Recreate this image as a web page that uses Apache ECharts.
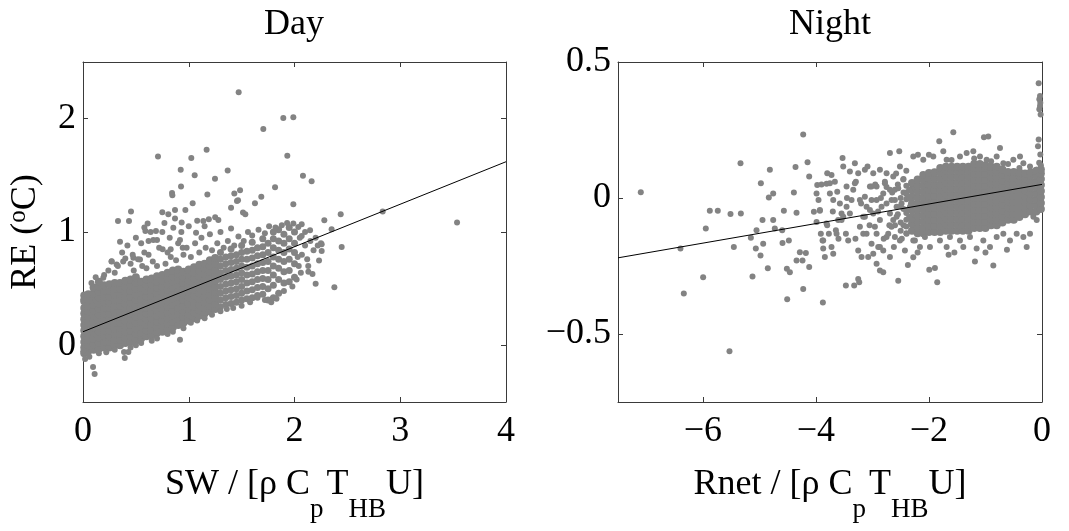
<!DOCTYPE html>
<html><head><meta charset="utf-8">
<script src="https://cdn.jsdelivr.net/npm/echarts@6/dist/echarts.min.js"></script>
<style>html,body{margin:0;padding:0;background:#fff}#c{width:1069px;height:531px}</style>
</head><body><div id="c"></div>
<script>
const FONT = 'Liberation Serif';
const dayXTicks = [0, 1, 2, 3, 4];
const dayYTicks = [0, 1, 2];
const nightXTicks = [-6, -4, -2, 0];
const nightYTicks = [-0.5, 0, 0.5];
const dayFit = [[0, 0.12], [4, 1.62]];
const nightFit = [[-7.5, -0.22], [0, 0.05]];

// Day: dense cloud, column by column (x, then y values seen in that column)
const dayCoreX = [0.012,0.05,0.1,0.15,0.2,0.25,0.3,0.35,0.4,0.45,0.5,0.55,0.6,0.65,0.7,0.75,0.8,0.85,0.9,0.95,1.0,1.05,1.1,1.15,1.2,1.25];
const dayCoreY = [
 [-0.07,-0.02,0.03,0.08,0.13,0.18,0.23,0.28,0.33,0.39,0.44],
 [-0.05,0.0,0.05,0.10,0.15,0.20,0.25,0.30,0.35,0.40,0.45],
 [-0.04,0.01,0.06,0.11,0.16,0.21,0.26,0.31,0.36,0.41,0.46,0.51],
 [-0.03,0.02,0.07,0.12,0.17,0.22,0.27,0.32,0.37,0.42,0.47,0.52,0.56],
 [-0.02,0.03,0.08,0.13,0.18,0.23,0.28,0.33,0.38,0.43,0.48,0.53],
 [-0.02,0.03,0.08,0.13,0.18,0.23,0.28,0.33,0.38,0.43,0.48,0.54],
 [0.0,0.05,0.10,0.15,0.20,0.25,0.30,0.35,0.40,0.45,0.50,0.55],
 [0.0,0.05,0.10,0.15,0.20,0.25,0.30,0.35,0.40,0.45,0.50,0.55],
 [0.02,0.07,0.12,0.17,0.22,0.27,0.32,0.37,0.42,0.47,0.52,0.57],
 [0.03,0.08,0.13,0.18,0.23,0.28,0.33,0.38,0.43,0.48,0.53,0.58],
 [0.05,0.10,0.15,0.20,0.25,0.30,0.35,0.40,0.45,0.50,0.55,0.60],
 [0.06,0.11,0.16,0.21,0.26,0.31,0.36,0.41,0.46,0.51,0.56],
 [0.08,0.13,0.18,0.23,0.28,0.33,0.38,0.43,0.48,0.53,0.58],
 [0.09,0.14,0.19,0.24,0.29,0.34,0.39,0.44,0.49,0.54,0.59],
 [0.11,0.16,0.21,0.26,0.31,0.36,0.41,0.46,0.51,0.56,0.61],
 [0.12,0.17,0.22,0.27,0.32,0.37,0.42,0.47,0.52,0.57,0.62],
 [0.14,0.19,0.24,0.29,0.34,0.39,0.44,0.49,0.54,0.59,0.64],
 [0.16,0.21,0.26,0.31,0.36,0.41,0.46,0.51,0.56,0.61,0.66],
 [0.18,0.23,0.28,0.33,0.38,0.43,0.48,0.53,0.58,0.63,0.67],
 [0.20,0.25,0.30,0.35,0.40,0.45,0.50,0.55,0.60,0.65],
 [0.22,0.27,0.32,0.37,0.42,0.47,0.52,0.57,0.62,0.67],
 [0.24,0.29,0.34,0.39,0.44,0.49,0.54,0.59,0.64,0.69],
 [0.26,0.31,0.36,0.41,0.46,0.51,0.56,0.61,0.66,0.71],
 [0.28,0.33,0.38,0.43,0.48,0.53,0.58,0.63,0.68,0.72],
 [0.30,0.35,0.40,0.45,0.50,0.55,0.60,0.65,0.70,0.75],
 [0.32,0.37,0.42,0.47,0.52,0.57,0.62,0.67,0.72,0.77]
];
// Day: looser band further right, column by column
const dayBandX = [1.3,1.35,1.4,1.45,1.5,1.55,1.6,1.65,1.7,1.75,1.8,1.85,1.9,1.95,2.0];
const dayBandY = [
 [0.34,0.40,0.46,0.52,0.58,0.64,0.70,0.76,0.82],
 [0.36,0.42,0.48,0.54,0.60,0.66,0.72,0.78],
 [0.37,0.43,0.49,0.55,0.61,0.67,0.73,0.79,0.85],
 [0.38,0.44,0.50,0.56,0.62,0.68,0.74,0.80],
 [0.40,0.46,0.52,0.58,0.64,0.70,0.76,0.82,0.88],
 [0.41,0.48,0.55,0.62,0.69,0.76,0.83],
 [0.42,0.49,0.56,0.63,0.70,0.77,0.84,0.91],
 [0.44,0.51,0.58,0.65,0.72,0.79,0.86],
 [0.45,0.52,0.59,0.66,0.73,0.80,0.87,0.94],
 [0.40,0.50,0.58,0.66,0.74,0.82,0.90],
 [0.42,0.53,0.62,0.70,0.78,0.86,0.94,1.0],
 [0.46,0.58,0.68,0.76,0.84,0.92,1.02],
 [0.55,0.65,0.74,0.82,0.90,0.98],
 [0.56,0.66,0.76,0.85,0.94,1.04],
 [0.60,0.72,0.82,0.90,1.0]
];
// Day: scattered points outside the dense cloud
const dayScatter = [
 [1.472,2.233],[1.894,2.006],[1.989,2.012],[1.705,1.909],[1.932,1.673],[0.709,1.667],[1.024,1.652],[1.169,1.726],
 [0.924,1.549],[1.056,1.501],[1.248,1.469],[1.368,1.543],[2.080,1.496],[2.162,1.448],[0.927,1.401],[1.816,1.395],
 [0.842,1.345],[0.845,1.324],[1.431,1.339],[1.485,1.369],[1.176,1.330],[1.466,1.280],[1.456,1.274],[1.686,1.310],
 [1.037,1.254],[1.989,1.245],[1.626,1.254],[1.40,1.215],[1.513,1.171],[1.535,1.156],[0.750,1.174],[0.807,1.156],
 [0.870,1.195],[0.968,1.195],[0.454,1.180],[0.331,1.097],[0.435,1.097],[0.35,0.914],[2.437,1.156],[2.834,1.18],
 [3.537,1.083],[2.282,1.103],[2.351,1.024],[2.446,0.867],[2.377,0.513],[2.2,0.543],[2.131,0.649],[2.232,0.749],
 [2.257,0.832],[2.257,0.891],[1.989,1.074],[2.036,1.044],[2.068,1.068],[2.147,1.015],[2.068,0.965],[1.28,1.106],
 [1.19,1.112],[1.138,1.097],[1.069,0.994],[0.69,1.009],[0.59,1.009],[0.611,1.074],[0.854,1.038],[0.933,1.083],
 [0.917,0.929],[0.943,0.861],[0.829,0.847],[0.665,0.929],[0.753,0.847],[0.476,0.773],[0.4,0.767],[0.539,0.758],
 [0.271,0.743],[0.318,0.714],[0.192,0.596],[0.06,0.395],[0.003,0.404],[0.917,0.05],[0.539,0.035],[0.388,-0.059],
 [0.429,-0.059],[0.395,-0.112],[0.095,-0.192],[0.11,-0.254],[0.028,-0.068],[0.003,-0.053],
 [0.08,0.55],[0.12,0.6],[0.2,0.62],[0.24,0.66],[0.3,0.64],[0.33,0.7],[0.38,0.74],[0.27,0.74],[0.45,0.72],[0.48,0.66],
 [0.52,0.76],[0.56,0.7],[0.6,0.68],[0.62,0.8],[0.58,0.82],[0.66,0.74],[0.7,0.7],[0.72,0.86],[0.78,0.72],[0.8,0.82],
 [0.83,0.78],[0.88,0.75],[0.9,0.9],[0.95,0.8],[0.98,0.86],[1.02,0.78],[1.06,0.9],[1.1,0.82],[1.12,0.95],[1.16,0.86],
 [1.2,0.98],[1.22,0.84],[1.27,0.9],[1.3,1.0],[1.33,0.86],[1.37,0.92],[1.4,1.03],[1.43,0.88],[1.47,0.96],[1.52,0.92],
 [1.56,1.0],[1.6,0.97],[1.66,1.02],[1.72,0.99],[1.76,1.05],[1.82,1.04],[1.88,1.06],[1.93,1.08],[0.64,1.0],[0.7,0.93],
 [0.75,1.0],[0.77,1.08],[0.82,0.95],[0.87,1.12],[0.93,1.0],[1.0,1.05],[1.08,1.1],[1.15,1.05],[1.25,1.13],[0.55,0.9],
 [0.5,0.95],[0.42,0.88],[0.47,0.8],[0.37,0.82],[0.58,1.04],[0.62,0.92],
 [0.02,-0.12],[0.06,-0.1],[0.15,-0.07],[0.22,-0.06],[0.3,-0.04],[0.45,-0.02],[0.5,0.0],[0.55,0.02],[0.65,0.04],
 [0.7,0.06],[0.8,0.1],[0.85,0.12],[0.95,0.15],[1.02,0.2],[1.08,0.22],[1.15,0.24],[1.22,0.27],[1.3,0.3],[1.36,0.32],
 [1.42,0.33],[1.5,0.35],[1.58,0.38],[1.65,0.42],[1.72,0.4],[1.78,0.38],[1.83,0.41],[1.9,0.48],[1.98,0.52],[2.02,0.58],
 [2.06,0.64],[2.04,0.7],[2.07,0.8],[2.1,0.88],[2.12,0.76],[2.15,0.92],[2.18,0.84],[2.2,0.95],[2.22,0.88],[2.25,0.9],
 [2.05,0.95],[2.1,1.0],[2.03,0.78],[2.13,0.7],[2.17,0.63]
];

// Night: dense cloud, column by column
const nightCoreX = [-2.3,-2.2,-2.1,-2.0,-1.9,-1.8,-1.7,-1.6,-1.5,-1.4,-1.3,-1.2,-1.1,-1.0,-0.9,-0.8,-0.7,-0.6,-0.5,-0.4,-0.3,-0.2,-0.1,-0.02];
const nightCoreY = [
 [-0.12,-0.095,-0.07,-0.045,-0.02,0.005,0.03,0.055],
 [-0.13,-0.108,-0.086,-0.064,-0.042,-0.02,0.002,0.024,0.046,0.068],
 [-0.13,-0.108,-0.086,-0.064,-0.042,-0.02,0.002,0.024,0.046,0.068,0.085],
 [-0.125,-0.103,-0.081,-0.059,-0.037,-0.015,0.007,0.029,0.051,0.073,0.092],
 [-0.125,-0.103,-0.081,-0.059,-0.037,-0.015,0.007,0.029,0.051,0.073,0.095],
 [-0.125,-0.103,-0.081,-0.059,-0.037,-0.015,0.007,0.029,0.051,0.073,0.095,0.11],
 [-0.12,-0.098,-0.076,-0.054,-0.032,-0.01,0.012,0.034,0.056,0.078,0.1,0.115],
 [-0.12,-0.098,-0.076,-0.054,-0.032,-0.01,0.012,0.034,0.056,0.078,0.1,0.115],
 [-0.12,-0.098,-0.076,-0.054,-0.032,-0.01,0.012,0.034,0.056,0.078,0.1,0.115],
 [-0.12,-0.098,-0.076,-0.054,-0.032,-0.01,0.012,0.034,0.056,0.078,0.1,0.115],
 [-0.12,-0.098,-0.076,-0.054,-0.032,-0.01,0.012,0.034,0.056,0.078,0.1,0.115],
 [-0.11,-0.088,-0.066,-0.044,-0.022,0.0,0.022,0.044,0.066,0.088,0.11,0.125],
 [-0.11,-0.088,-0.066,-0.044,-0.022,0.0,0.022,0.044,0.066,0.088,0.11,0.125],
 [-0.11,-0.088,-0.066,-0.044,-0.022,0.0,0.022,0.044,0.066,0.088,0.11,0.12],
 [-0.1,-0.078,-0.056,-0.034,-0.012,0.01,0.032,0.054,0.076,0.098,0.115],
 [-0.1,-0.078,-0.056,-0.034,-0.012,0.01,0.032,0.054,0.076,0.098,0.115],
 [-0.09,-0.068,-0.046,-0.024,-0.002,0.02,0.042,0.064,0.086,0.105],
 [-0.08,-0.058,-0.036,-0.014,0.008,0.03,0.052,0.074,0.096],
 [-0.08,-0.058,-0.036,-0.014,0.008,0.03,0.052,0.074,0.096],
 [-0.07,-0.048,-0.026,-0.004,0.018,0.04,0.062,0.084,0.095],
 [-0.06,-0.038,-0.016,0.006,0.028,0.05,0.072,0.09],
 [-0.05,-0.028,-0.006,0.016,0.038,0.06,0.082,0.095],
 [-0.05,-0.028,-0.006,0.016,0.038,0.06,0.082,0.1],
 [-0.04,-0.018,0.004,0.026,0.048,0.07,0.09,0.105]
];
// Night: scattered points
const nightScatter = [
 [-7.097,0.021],[-5.528,-0.563],[-6.336,-0.351],[-6.395,-0.186],[-5.994,-0.291],[-5.947,-0.112],[-5.876,-0.047],
 [-5.735,-0.047],[-5.51,-0.059],[-5.327,-0.057],[-5.333,0.128],[-5.451,-0.180],[-5.150,-0.146],[-5.121,-0.289],
 [-4.973,0.054],[-4.944,-0.081],[-5.05,-0.119],[-5.062,-0.186],[-4.979,-0.211],[-4.932,-0.168],[-4.814,0.104],
 [-4.832,0.002],[-4.755,0.017],[-4.85,-0.258],[-4.755,-0.081],[-4.726,-0.112],[-4.596,-0.119],[-4.590,-0.165],
 [-4.566,-0.047],[-4.513,-0.260],[-4.460,-0.273],[-4.507,-0.372],[-4.389,0.020],[-4.360,0.114],[-4.342,-0.054],
 [-4.478,-0.156],[-4.342,-0.230],[-4.283,-0.199],[-4.236,-0.230],[-4.177,-0.202],[-4.118,-0.254],[-4.224,-0.335],
 [-4.224,0.233],[-4.147,0.131],[-4.118,0.079],
 [-3.976,0.048],[-3.953,-0.007],[-4.035,-0.051],[-3.929,-0.047],[-3.988,-0.088],[-3.912,-0.131],[-3.882,-0.156],
 [-3.870,-0.186],[-3.841,-0.217],[-3.876,-0.384],[-3.811,0.052],[-3.799,0.091],[-3.752,0.017],[-3.770,-0.131],
 [-3.528,0.147],[-3.516,0.116],[-3.457,0.042],[-3.469,-0.322],[-3.322,-0.322],[-3.233,-0.310],[-3.251,-0.298],
 [-3.310,0.128],[-3.133,0.104],[-3.086,0.116],[-2.690,0.165],[-2.525,0.172],[-2.195,0.159],[-2.0,0.159],
 [-1.817,0.209],[-1.569,0.242],[-1.027,0.223],[-0.950,0.226],[-0.743,0.184],[-0.389,0.153],
 [-0.059,0.422],[-0.035,0.375],[-0.047,0.363],[-0.035,0.338],[-0.024,0.307],[-0.047,0.326],[-0.03,0.35],
 [-0.059,0.215],[-0.071,0.190],[-0.03,0.16],[-0.05,0.13],[-0.02,0.12],
 [-2.543,-0.304],[-2.372,-0.246],[-1.994,-0.264],[-1.894,-0.257],[-1.853,-0.310],[-1.652,-0.209],[-1.186,-0.233],
 [-0.861,-0.248],[-2.808,-0.273],
 [-3.723,0.085],[-3.664,0.060],[-3.622,0.023],[-3.575,-0.020],[-3.546,-0.057],[-3.605,-0.081],[-3.646,-0.119],
 [-3.693,-0.205],[-3.723,-0.180],[-3.516,-0.069],[-3.469,-0.131],[-3.428,-0.156],[-3.398,-0.057],[-3.369,-0.007],
 [-3.339,0.030],[-3.292,0.060],[-3.251,0.091],[-3.221,-0.106],[-3.162,-0.131],[-3.133,-0.069],[-3.103,-0.032],
 [-3.044,0.042],[-3.015,-0.007],[-2.985,-0.057],[-2.956,-0.106],[-2.926,-0.131],[-2.897,-0.180],[-2.867,-0.081],
 [-2.838,-0.032],[-2.808,0.017],[-2.779,0.054],[-2.749,0.091],[-2.720,-0.131],[-2.690,-0.057],[-2.661,-0.007],
 [-2.631,-0.081],[-2.602,0.030],[-2.572,-0.032],[-3.074,-0.217],[-2.926,-0.242],[-2.867,-0.267],[-3.251,-0.193],
 [-3.192,-0.217],[-3.015,-0.168],[-2.808,-0.193],[-2.690,-0.217],[-2.602,-0.143],[-2.985,0.091],[-2.926,0.042],
 [-2.55,-0.06],[-2.45,-0.1],[-2.55,0.05],[-2.6,-0.1],[-2.65,0.02],[-2.7,-0.1],[-2.75,-0.02],[-2.8,-0.15],
 [-2.85,0.0],[-2.9,-0.05],[-2.95,0.05],[-3.05,-0.1],[-3.2,-0.02],[-3.3,-0.15],[-3.45,0.0],[-3.6,-0.15],
 [-3.7,-0.05],[-3.8,-0.1],[-3.9,0.05],[-2.45,0.07],[-2.48,-0.15],[-2.62,-0.18],[-2.75,0.04],[-2.58,0.09],
 [-2.867,0.104],[-2.779,0.060],[-2.690,0.030],[-2.602,-0.007],[-2.513,0.116],[-2.454,0.068],[-2.395,0.014],
 [-2.336,-0.032],[-2.307,-0.081],[-2.572,-0.069],[-2.661,-0.106],[-2.749,-0.143],[-2.867,-0.180],[-2.985,-0.205],
 [-3.103,-0.131],[-3.162,-0.069],[-3.221,-0.007],[-3.310,0.054],[-3.398,0.097],[-3.457,-0.032],[-3.546,-0.081],
 [-3.634,-0.131],[-3.693,-0.007],[-3.752,0.054],[-3.811,-0.094],[-3.870,-0.156],[-3.929,-0.044],[-3.988,0.017],
 [-2.513,-0.156],[-2.425,-0.193],[-2.277,-0.218],[-2.248,-0.156],[-2.395,-0.044],[-2.484,-0.020],[-2.543,0.036],
 [-2.631,0.079],[-2.926,-0.007],[-3.044,-0.044],[-3.015,0.042],[-3.133,0.005],
 [-2.5,-0.12],[-2.5,-0.09],[-2.5,-0.03],[-2.5,0.0],[-2.4,-0.13],[-2.4,-0.105],[-2.4,-0.08],[-2.4,-0.055],
 [-2.4,-0.005],[-2.4,0.02],[-2.4,0.045],[-2.35,-0.07],[-2.35,0.0],[-2.35,0.03],[-2.45,-0.04],[-2.45,0.02],
 [-2.395,-0.131],[-2.277,-0.156],[-2.159,-0.180],[-2.071,-0.143],[-1.982,-0.180],[-1.805,-0.156],[-1.687,-0.180],
 [-1.628,-0.143],[-1.451,-0.156],[-1.392,-0.180],[-1.274,-0.143],[-1.156,-0.186],[-1.038,-0.156],[-0.920,-0.180],
 [-0.802,-0.143],[-0.684,-0.131],[-0.566,-0.156],[-0.448,-0.131],[-0.330,-0.143],[-0.271,-0.180],[-0.212,-0.131],
 [-0.153,-0.069],[-0.094,-0.081],[-2.2,-0.2],[-1.55,-0.2],[-1.0,-0.2],[-0.62,-0.19],
 [-2.277,0.153],[-2.100,0.141],[-1.923,0.153],[-1.746,0.172],[-1.687,0.141],[-1.451,0.153],[-1.333,0.165],
 [-1.215,0.172],[-1.097,0.153],[-0.979,0.141],[-0.802,0.153],[-0.684,0.128],[-0.507,0.141],[-0.330,0.128],
 [-0.212,0.116],[-0.094,0.104],[-2.4,0.1],[-1.6,0.14],[-1.2,0.145],[-0.9,0.135],[-0.6,0.125],[-0.4,0.11]
];

function toPoints(xs, cols) {
  const out = [];
  xs.forEach((x, i) => cols[i].forEach(y => out.push([x, y])));
  return out;
}
const fmt = v => String(v).replace('-', '\u2212');
const lineCol = '#3a3a3a';
const dotCol = '#838383';

function mk(extra, ticks, labels, margin) {
  return Object.assign({
    type: 'value', splitLine: { show: false },
    axisLine: { show: true, onZero: false, lineStyle: { color: lineCol, width: 1 } },
    axisTick: { show: true, inside: true, length: 5, customValues: ticks, lineStyle: { color: lineCol } },
    axisLabel: { show: labels, customValues: ticks, margin: margin || 8, color: '#000',
                 fontFamily: FONT, fontSize: 36, formatter: fmt }
  }, extra);
}
const richX = {
  m: { fontFamily: FONT, fontSize: 36, color: '#000', lineHeight: 76 },
  s: { fontFamily: FONT, fontSize: 27, color: '#000', lineHeight: 27, verticalAlign: 'bottom' },
  sp: { fontFamily: FONT, fontSize: 27, color: '#000', lineHeight: 27, verticalAlign: 'bottom', padding: [0, 3, 0, 0] }
};
const richY = {
  m: { fontFamily: FONT, fontSize: 36, color: '#000', lineHeight: 40 },
  u: { fontFamily: FONT, fontSize: 25, color: '#000', lineHeight: 25, verticalAlign: 'top' }
};

const chart = echarts.init(document.getElementById('c'), null, { renderer: 'canvas' });
chart.setOption({
  animation: false,
  backgroundColor: '#fff',
  grid: [
    { left: 83, top: 62, width: 423, height: 340, containLabel: false, outerBoundsMode: 'none' },
    { left: 618, top: 62, width: 424, height: 340, containLabel: false, outerBoundsMode: 'none' }
  ],
  xAxis: [
    mk({ gridIndex: 0, min: 0, max: 4, position: 'bottom', name: '{m|SW / [ρ C}{sp|p}{m|T}{s|HB}{m|U]}',
         nameLocation: 'middle', nameGap: 45, nameTextStyle: { rich: richX } }, dayXTicks, true, 12),
    mk({ gridIndex: 0, min: 0, max: 4, position: 'top' }, dayXTicks, false),
    mk({ gridIndex: 1, min: -7.5, max: 0, position: 'bottom', name: '{m|Rnet / [ρ C}{sp|p}{m|T}{s|HB}{m|U]}',
         nameLocation: 'middle', nameGap: 45, nameTextStyle: { rich: richX } }, nightXTicks, true, 12),
    mk({ gridIndex: 1, min: -7.5, max: 0, position: 'top' }, nightXTicks, false)
  ],
  yAxis: [
    mk({ gridIndex: 0, min: -0.5, max: 2.5, position: 'left', name: '{m|RE (}{u|o}{m|C)}',
         nameLocation: 'middle', nameGap: 37, nameRotate: 90, nameTextStyle: { rich: richY } }, dayYTicks, true, 7),
    mk({ gridIndex: 0, min: -0.5, max: 2.5, position: 'right' }, dayYTicks, false),
    mk({ gridIndex: 1, min: -0.75, max: 0.5, position: 'left' }, nightYTicks, true, 7),
    mk({ gridIndex: 1, min: -0.75, max: 0.5, position: 'right' }, nightYTicks, false)
  ],
  graphic: [
    { type: 'text', x: 294, y: 25, style: { text: 'Day', font: '36px "Liberation Serif"', fill: '#000', textAlign: 'center', textVerticalAlign: 'middle' } },
    { type: 'text', x: 830, y: 25, style: { text: 'Night', font: '36px "Liberation Serif"', fill: '#000', textAlign: 'center', textVerticalAlign: 'middle' } }
  ],
  series: [
    { type: 'scatter', xAxisIndex: 0, yAxisIndex: 0, symbolSize: 8, itemStyle: { color: dotCol, opacity: 1 },
      data: toPoints(dayCoreX, dayCoreY), silent: true },
    { type: 'scatter', xAxisIndex: 0, yAxisIndex: 0, symbolSize: 7, itemStyle: { color: dotCol, opacity: 1 },
      data: toPoints(dayBandX, dayBandY), silent: true },
    { type: 'scatter', xAxisIndex: 0, yAxisIndex: 0, symbolSize: 6, itemStyle: { color: dotCol, opacity: 1 },
      data: dayScatter, silent: true },
    { type: 'line', xAxisIndex: 0, yAxisIndex: 0, data: dayFit, showSymbol: false, symbol: 'none',
      lineStyle: { color: '#000', width: 1 }, z: 5, silent: true },
    { type: 'scatter', xAxisIndex: 2, yAxisIndex: 2, symbolSize: 8, itemStyle: { color: dotCol, opacity: 1 },
      data: toPoints(nightCoreX, nightCoreY), silent: true },
    { type: 'scatter', xAxisIndex: 2, yAxisIndex: 2, symbolSize: 6, itemStyle: { color: dotCol, opacity: 1 },
      data: nightScatter, silent: true },
    { type: 'line', xAxisIndex: 2, yAxisIndex: 2, data: nightFit, showSymbol: false, symbol: 'none',
      lineStyle: { color: '#000', width: 1 }, z: 5, silent: true }
  ]
});
</script>
</body></html>
